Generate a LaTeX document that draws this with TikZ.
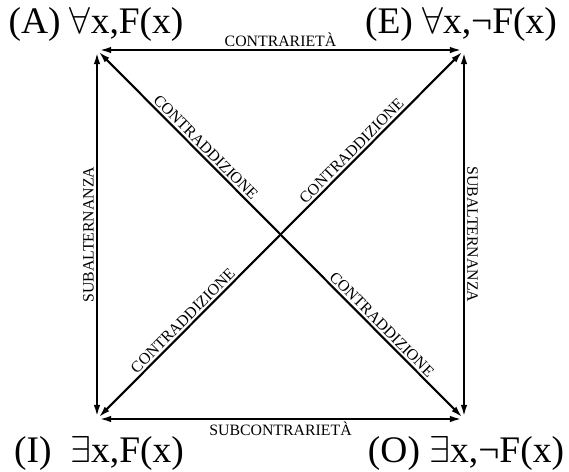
\documentclass[tikz,border=0pt]{standalone}
\usepackage{fix-cm}
\usepackage{fontspec}
\setmainfont{Liberation Serif}
\usetikzlibrary{arrows.meta}

\begin{document}
\begin{tikzpicture}[x=0.03cm,y=-0.03cm,
    rel/.style={line width=1.8pt,{Latex[length=10pt,width=5.5pt]}-{Latex[length=10pt,width=5.5pt]},shorten <=2pt,shorten >=2pt},
    lab/.style={font=\fontsize{13.5}{15}\selectfont,inner sep=1.8pt},
    corner/.style={font=\fontsize{32}{36}\selectfont,anchor=base,inner sep=0pt}]
  \useasboundingbox (0,0) rectangle (569,471);
  % vertici del quadrato
  \coordinate (A) at (97,50);
  \coordinate (E) at (464,50);
  \coordinate (I) at (97,419);
  \coordinate (O) at (464,419);
  \node[corner] (Atext) at (96,33) {(A) $\forall$x,F(x)};
  \node[corner] (Etext) at (461,33) {(E) $\forall$x,¬F(x)};
  \node[corner] (Itext) at (99,462) {(I)\ \ $\exists$x,F(x)};
  \node[corner] (Otext) at (466,462) {(O) $\exists$x,¬F(x)};
  % lati
  \draw[rel] (A) -- node[lab,above] (contr) {CONTRARIETÀ} (E);
  \draw[rel] (I) -- node[lab,below] (subcontr) {SUBCONTRARIETÀ} (O);
  \draw[rel] (I) -- node[lab,sloped,above] (subA) {SUBALTERNANZA} (A);
  \draw[rel] (E) -- node[lab,sloped,above] (subE) {SUBALTERNANZA} (O);
  % diagonali
  \draw[rel] (A) -- node[lab,sloped,above,pos=0.28] (contrAd) {CONTRADDIZIONE}
                    node[lab,sloped,above,pos=0.76] (contrOd) {CONTRADDIZIONE} (O);
  \draw[rel] (I) -- node[lab,sloped,above,pos=0.25] (contrId) {CONTRADDIZIONE}
                    node[lab,sloped,above,pos=0.71] (contrEd) {CONTRADDIZIONE} (E);
\end{tikzpicture}
\end{document}
